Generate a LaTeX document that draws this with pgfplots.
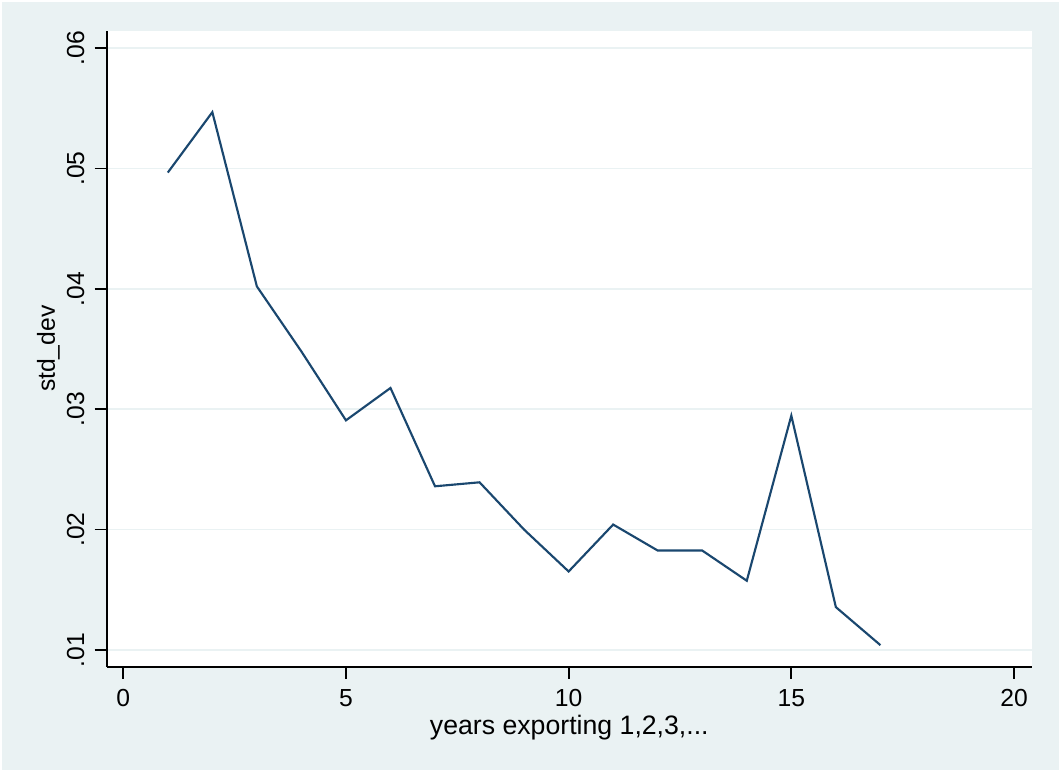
\documentclass[border=0pt]{standalone}
\usepackage{fontspec}
\setmainfont{Liberation Sans}
\usepackage{pgfplots}
\pgfplotsset{compat=1.18}
\definecolor{stbg}{RGB}{234,242,243}
\definecolor{stnavy}{RGB}{26,71,111}
\begin{document}
\begin{tikzpicture}[x=1pt,y=1pt]
\fill[white] (0,0) rectangle (795.75,579);
\fill[stbg] (1.5,1.5) rectangle (794.25,577.5);
\begin{axis}[
  at={(80pt,79pt)}, anchor=south west,
  scale only axis, width=694pt, height=476.8pt,
  xmin=-0.3727, xmax=20.404, ymin=0.00861, ymax=0.06144,
  scaled y ticks=false,
  axis background/.style={fill=white},
  axis x line*=bottom, axis y line*=left,
  axis line style={-, line width=1.3pt, black},
  tick style={line width=1.3pt, black},
  tick align=outside, major tick length=9pt,
  xtick={0,5,10,15,20},
  ytick={0.01,0.02,0.03,0.04,0.05,0.06},
  yticklabels={.01,.02,.03,.04,.05,.06},
  ymajorgrids, grid style={line width=1.3pt, stbg},
  font=\fontsize{18.5}{22}\selectfont,
  /pgf/number format/assume math mode=true,
  xticklabel style={anchor=north, inner sep=0pt, yshift=-8pt},
  yticklabel style={rotate=90, anchor=south, inner sep=0pt, yshift=7.5pt},
  xlabel={years exporting 1,2,3,...},
  ylabel={std\_dev},
  xlabel style={at={(axis description cs:0.5,-0.1074)}, anchor=base, font=\fontsize{20}{24}\selectfont},
  ylabel style={at={(axis description cs:-0.0559,0.5)}, anchor=base, rotate=0},
]
\addplot[stnavy, line width=1.6pt, mark=none, line join=miter] coordinates {
(1,0.04967) (2,0.05469) (3,0.04021) (4,0.0348) (5,0.02908) (6,0.03177)
(7,0.0236) (8,0.02393) (9,0.0200) (10,0.01652) (11,0.02042) (12,0.01826)
(13,0.01826) (14,0.01575) (15,0.02947) (16,0.01356) (17,0.0104)
};
\end{axis}
\end{tikzpicture}
\end{document}
